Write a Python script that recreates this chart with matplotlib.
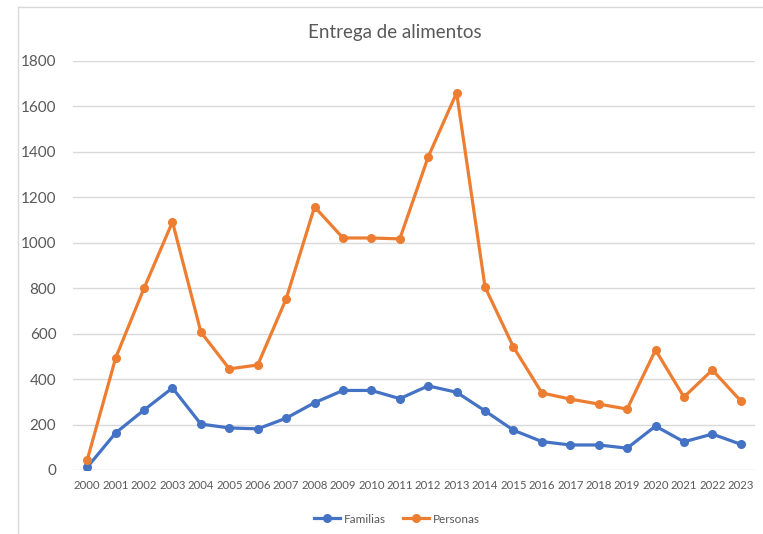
import matplotlib.pyplot as plt
from matplotlib.lines import Line2D

anios = [str(a) for a in range(2000, 2024)]
familias = [12, 163, 264, 361, 202, 185, 181, 228, 296, 350, 350, 314,
            370, 342, 260, 175, 125, 110, 110, 96, 193, 124, 158, 113]
personas = [44, 493, 800, 1092, 607, 445, 462, 753, 1158, 1021, 1021, 1017,
            1378, 1660, 805, 541, 339, 312, 290, 268, 528, 321, 440, 304]

azul = "#4472C4"
naranja = "#ED7D31"
gris = "#595959"

plt.rcParams["font.family"] = ["Lato", "DejaVu Sans"]

fig = plt.figure(figsize=(7.63, 5.34), dpi=100)
ax = fig.add_axes([0.0957, 0.1199, 0.8938, 0.7659])

x = range(len(anios))
ax.plot(x, familias, color=azul, lw=2.3, marker="o", ms=5.5, label="Familias")
ax.plot(x, personas, color=naranja, lw=2.3, marker="o", ms=5.5, label="Personas")

ax.set_xlim(-0.5, len(anios) - 0.5)
ax.set_ylim(0, 1800)
ax.set_yticks(range(0, 1801, 200))
ax.set_xticks(list(x))
ax.set_xticklabels(anios, fontsize=8.2, color=gris)
ax.tick_params(axis="y", labelsize=11, labelcolor=gris, length=0, pad=12)
ax.tick_params(axis="x", length=0, pad=7)
ax.grid(axis="y", color="#D9D9D9", lw=1)
ax.set_axisbelow(True)
for s in ax.spines.values():
    s.set_visible(False)

fig.suptitle("Entrega de alimentos", x=0.518, y=0.955, fontsize=13.5, color=gris)

h = [Line2D([], [], color=azul, lw=2.3, marker="o", ms=5.5),
     Line2D([], [], color=naranja, lw=2.3, marker="o", ms=5.5)]
fig.legend(h, ["Familias", "Personas"], loc="center", bbox_to_anchor=(0.52, 0.028),
           ncol=2, frameon=False, fontsize=8.5, labelcolor=gris,
           handlelength=2.2, handletextpad=0.3, columnspacing=1.5)

# marco del grafico
fig.add_artist(Line2D([18 / 763, 18 / 763], [0, 1 - 7 / 534], transform=fig.transFigure,
                      color="#D9D9D9", lw=1))
fig.add_artist(Line2D([18 / 763, 1], [1 - 7 / 534, 1 - 7 / 534], transform=fig.transFigure,
                      color="#D9D9D9", lw=1))

fig.savefig("out.png", dpi=100)
